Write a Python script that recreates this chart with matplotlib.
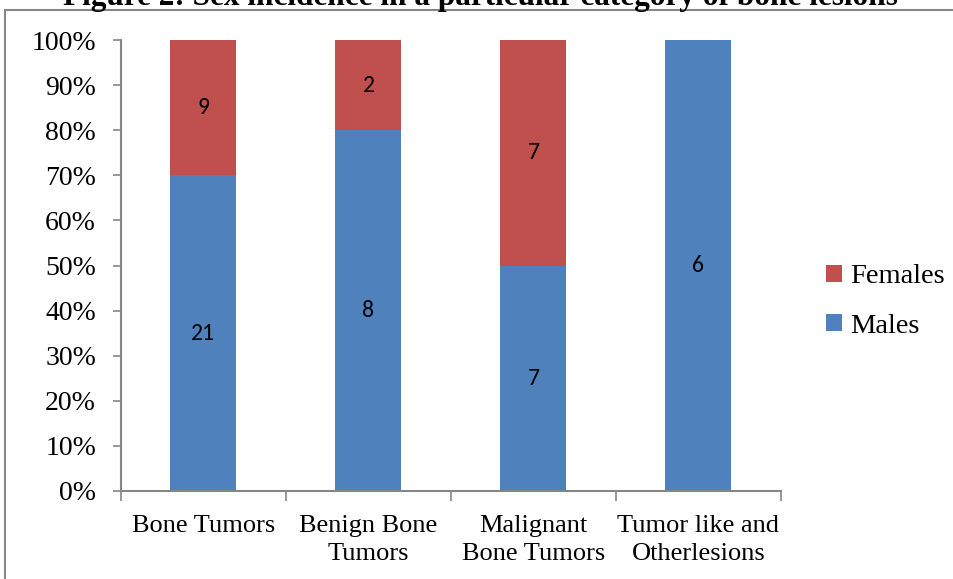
import matplotlib.pyplot as plt
from matplotlib.patches import Rectangle
from matplotlib.ticker import PercentFormatter

categories = ['Bone Tumors', 'Benign Bone\nTumors', 'Malignant\nBone Tumors', 'Tumor like and\nOtherlesions']
males = [21, 8, 7, 6]
females = [9, 2, 7, 0]

blue = '#4F81BD'
red = '#C0504D'
serif = ['Liberation Serif', 'DejaVu Serif']
sans = ['Carlito', 'Lato', 'DejaVu Sans']

totals = [m + f for m, f in zip(males, females)]
male_pct = [100 * m / t for m, t in zip(males, totals)]
female_pct = [100 * f / t for f, t in zip(females, totals)]

fig = plt.figure(figsize=(9.54, 5.79), dpi=100)
ax = fig.add_axes([121 / 954, 88 / 579, 660 / 954, 451 / 579])

x = range(len(categories))
bm = ax.bar(x, male_pct, width=0.4, color=blue, label='Males')
bf = ax.bar(x, female_pct, width=0.4, bottom=male_pct, color=red, label='Females')

# counts in the middle of each segment
for i in x:
    if males[i]:
        ax.text(i, male_pct[i] / 2, str(males[i]), ha='center', va='center',
                fontsize=17, family=sans)
    if females[i]:
        ax.text(i, male_pct[i] + female_pct[i] / 2, str(females[i]), ha='center',
                va='center', fontsize=17, family=sans)

ax.set_xlim(-0.5, len(categories) - 0.5)
ax.set_ylim(0, 100)
ax.set_yticks(range(0, 101, 10))
ax.yaxis.set_major_formatter(PercentFormatter(decimals=0))
ax.set_xticks(x)
ax.set_xticklabels(categories, family=serif, fontsize=19, linespacing=1.35)
ax.set_xticks([i - 0.5 for i in range(len(categories) + 1)], minor=True)
ax.tick_params(axis='x', which='major', length=0, pad=17)
ax.tick_params(axis='x', which='minor', length=7, color='#868686', width=1.2)
ax.tick_params(axis='y', length=6, color='#868686', width=1.2, labelsize=20, pad=12)
for lbl in ax.get_yticklabels():
    lbl.set_family(serif)

for s in ['top', 'right']:
    ax.spines[s].set_visible(False)
for s in ['left', 'bottom']:
    ax.spines[s].set_color('#868686')
    ax.spines[s].set_linewidth(1.5)

handles = [bf, bm]
ax.legend(handles, ['Females', 'Males'], loc='center left', bbox_to_anchor=(1.03, 0.42),
          frameon=False, prop={'family': serif, 'size': 20.5}, handlelength=0.54,
          handleheight=0.54, handletextpad=0.3, labelspacing=0.85, borderpad=0.4)

# outer chart frame (cropped on the right and bottom)
fig.patches.append(Rectangle((5 / 954, -0.1), 1.2, 0.1 + 1 - 10 / 579, transform=fig.transFigure,
                             fill=False, edgecolor='#868686', linewidth=1.5))

fig.text(480 / 954, 1 - 5 / 579, 'Figure 2: Sex incidence in a particular category of bone lesions',
         ha='center', va='baseline', fontsize=22.5, fontweight='bold', family=serif)

fig.savefig('out.png', dpi=100)
